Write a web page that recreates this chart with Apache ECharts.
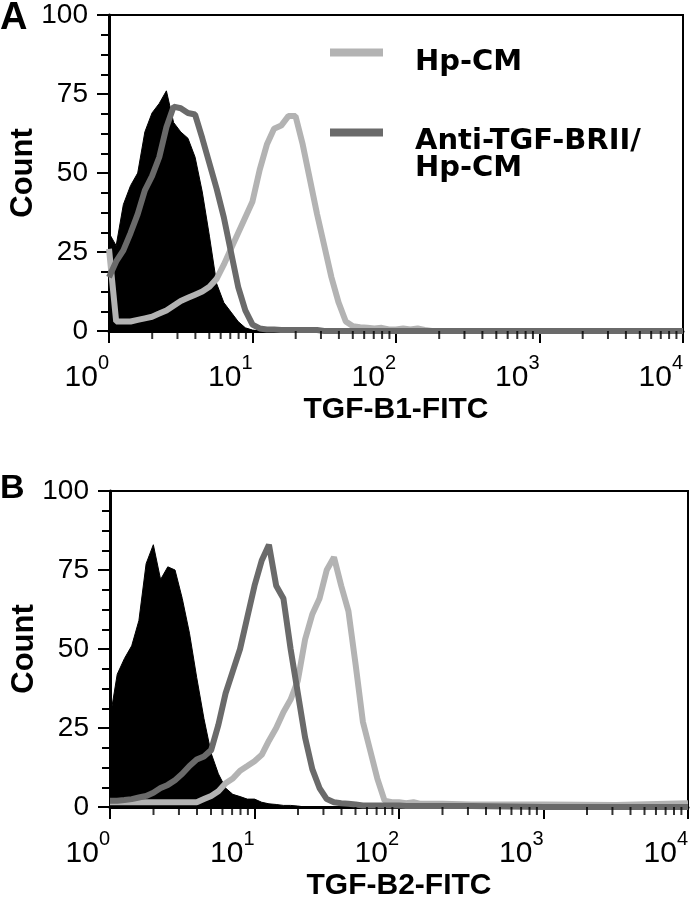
<!DOCTYPE html>
<html><head><meta charset="utf-8">
<script src="https://cdn.jsdelivr.net/npm/echarts@6/dist/echarts.min.js"></script>
<style>html,body{margin:0;padding:0;background:#fff}#c{width:700px;height:898px}</style>
</head><body><div id="c"></div>
<script>
// channel intensities (FITC fluorescence, log scale)
const channels = [1, 1.122, 1.259, 1.413, 1.585, 1.778, 1.995, 2.239, 2.512, 2.818,
  3.162, 3.548, 3.981, 4.467, 5.012, 5.623, 6.310, 7.079, 7.943, 8.913,
  10, 11.22, 12.59, 14.13, 15.85, 17.78, 19.95, 22.39, 25.12, 28.18,
  31.62, 35.48, 39.81, 44.67, 50.12, 56.23, 63.10, 70.79, 79.43, 89.13,
  100, 112.2, 125.9, 141.3, 158.5, 177.8, 199.5, 316.2, 1000, 3162, 10000];

// Panel A: TGF-B1-FITC
const aControl = [31, 27, 40, 46, 50, 63, 69, 72, 76, 66,
  63, 61, 55, 44, 30, 15, 9, 6, 3, 1,
  0.3, 0, 0, 0, 0, 0, 0, 0, 0, 0,
  0, 0, 0, 0, 0, 0, 0, 0, 0, 0,
  0, 0, 0, 0, 0, 0, 0, 0, 0, 0, 0];
const aHpCM = [26, 3, 3, 3, 3.5, 4, 4.5, 5.5, 6.5, 8,
  9.5, 10.5, 11.5, 12.5, 14, 16.5, 21, 26, 31, 36,
  41, 51, 59, 64, 65, 68, 68, 59, 48, 37,
  27, 17, 9, 3, 1.5, 1.2, 1, 0.8, 1, 0.5,
  0.5, 0.8, 0.5, 0.8, 0.3, 0, 0, 0, 0, 0, 0];
const aAnti = [17, 22, 25.5, 31, 37, 44.5, 49, 55, 64.5, 71,
  70.5, 69, 68.5, 61, 53, 45, 36, 25, 14, 6.5,
  2, 0.8, 0.5, 0.5, 0.3, 0.3, 0.3, 0.3, 0.3, 0.3,
  0, 0, 0, 0, 0, 0, 0, 0, 0, 0,
  0, 0, 0, 0, 0, 0, 0, 0, 0, 0, 0];

// Panel B: TGF-B2-FITC
const bControl = [28, 42, 47, 51, 59, 77, 83, 72, 76, 75,
  66, 55, 41, 28, 17, 10.5, 6, 4, 3.3, 2.5,
  2.5, 1.5, 1, 0.8, 0.5, 0.5, 0.3, 0, 0, 0,
  0, 0, 0, 0, 0, 0, 0, 0, 0, 0,
  0, 0, 0, 0, 0, 0, 0, 0, 0, 0, 0];
const bHpCM = [1.5, 1.5, 1.5, 1.5, 1.5, 1.5, 1.5, 1.5, 1.5, 1.5,
  1.5, 1.5, 1.5, 2.5, 3.5, 5, 7.5, 9, 11.5, 13,
  14.5, 16.5, 21, 25, 30, 34, 40, 53, 61, 66,
  75, 79, 70, 62, 45, 27, 18, 9, 2, 1.5,
  1.5, 1.2, 1.5, 1, 1, 1, 1, 0.8, 0.8, 0.6, 1.2];
const bAnti = [2, 2, 2.2, 2.5, 3, 3.5, 4.5, 6, 7, 8.5,
  10.5, 13, 15, 16, 18, 26, 36, 43, 50, 60,
  70, 78, 83, 70, 66, 50, 36, 22, 12, 6,
  2.5, 1.5, 1.2, 1, 0.8, 0.5, 0.5, 0.5, 0.5, 0.5,
  0.5, 0.3, 0.3, 0.3, 0.3, 0.3, 0.3, 0.3, 0, 0, 0];

// ticks
const xTickValues = [1, 10, 100, 1000, 10000];
const xTickExponents = ['0', '1', '2', '3', '4'];
const xMinorTicks = [2, 3, 4, 5, 6, 7, 8, 9, 20, 30, 40, 50, 60, 70, 80, 90,
  200, 300, 400, 500, 600, 700, 800, 900, 2000, 3000, 4000, 5000, 6000, 7000, 8000, 9000];

const nameHp = 'Hp-CM';
const nameAnti = 'Anti-TGF-BRII/\nHp-CM';
const LIGHT = '#b3b3b3', DARK = '#6a6a6a';
const FONT = "'Liberation Sans', Arial, Helvetica, sans-serif";

const chart = echarts.init(document.getElementById('c'));
const pairs = arr => channels.map((x, i) => [x, arr[i]]);

const plotA = {left: 109, top: 15, width: 574, height: 316};
const plotB = {left: 110, top: 491, width: 578, height: 316};

function xAx(gridIndex, title) {
  return {
    type: 'log', gridIndex, min: 1, max: 10000, position: 'bottom',
    name: title, nameLocation: 'middle', nameGap: 64, nameMoveOverlap: false,
    nameTextStyle: {fontFamily: FONT, fontWeight: 'bold', fontSize: 30, color: '#000'},
    axisLine: {show: true, onZero: false, lineStyle: {color: '#000', width: 3}},
    axisTick: {show: true, inside: false, length: 12, lineStyle: {color: '#000', width: 2}},
    splitLine: {show: false}, minorTick: {show: false},
    axisLabel: {
      margin: 22, align: 'right',
      formatter: v => {
        const i = xTickValues.findIndex(t => Math.abs(t - v) / t < 1e-6);
        return '{b|10}{s|' + (i >= 0 ? xTickExponents[i] : '') + '}';
      },
      rich: {
        b: {fontFamily: FONT, fontSize: 30, lineHeight: 40, verticalAlign: 'bottom', color: '#000'},
        s: {fontFamily: FONT, fontSize: 20, lineHeight: 20, verticalAlign: 'top', color: '#000'}
      }
    }
  };
}
function yAx(gridIndex) {
  return {
    type: 'value', gridIndex, min: 0, max: 100, interval: 25,
    name: 'Count', nameLocation: 'middle', nameGap: 70, nameRotate: 90, nameMoveOverlap: false,
    nameTextStyle: {fontFamily: FONT, fontWeight: 'bold', fontSize: 31, color: '#000'},
    axisLine: {show: true, onZero: false, lineStyle: {color: '#000', width: 3}},
    axisTick: {show: true, inside: false, length: 12, lineStyle: {color: '#000', width: 2}},
    minorTick: {show: true, splitNumber: 4, length: 8, lineStyle: {color: '#000', width: 2}},
    splitLine: {show: false},
    axisLabel: {fontFamily: FONT, fontSize: 28, color: '#000', margin: 21}
  };
}
// strips just outside each plot, whose split lines form the major tick marks
function xStripAxis(gridIndex) {
  return {type: 'log', gridIndex, min: 1, max: 10000,
    axisLine: {show: false}, axisTick: {show: false}, axisLabel: {show: false},
    splitLine: {show: true, lineStyle: {color: '#000', width: 2}}};
}
function yStripHidden(gridIndex) {
  return {type: 'value', gridIndex, min: 0, max: 1,
    axisLine: {show: false}, axisTick: {show: false}, axisLabel: {show: false}, splitLine: {show: false}};
}
function yStripAxis(gridIndex) {
  return {type: 'value', gridIndex, min: 0, max: 100, interval: 25,
    axisLine: {show: false}, axisTick: {show: false}, axisLabel: {show: false},
    splitLine: {show: true, lineStyle: {color: '#000', width: 2}}};
}
function xStripHidden(gridIndex) {
  return {type: 'value', gridIndex, min: 0, max: 1,
    axisLine: {show: false}, axisTick: {show: false}, axisLabel: {show: false}, splitLine: {show: false}};
}
// log-decade minor ticks (2..9 x 10^n) as short bars placed by the strip's x scale
function minorTickSeries(xi, yi) {
  return {type: 'scatter', name: 'minor ticks', xAxisIndex: xi, yAxisIndex: yi, silent: true,
    data: xMinorTicks.map(v => [v, 1]), symbol: 'rect', symbolSize: [2, 8], symbolOffset: [0, 4],
    itemStyle: {color: '#000'}, clip: false, z: 5};
}
function controlSeries(xi, yi, arr) {
  return {name: 'Control', type: 'line', xAxisIndex: xi, yAxisIndex: yi, data: pairs(arr),
    symbol: 'none', silent: true,
    lineStyle: {color: '#000', width: 1}, itemStyle: {color: '#000'},
    areaStyle: {color: '#000', opacity: 1}};
}
function lineSeries(name, xi, yi, arr, color) {
  return {name, type: 'line', xAxisIndex: xi, yAxisIndex: yi, data: pairs(arr),
    symbol: 'none', silent: true,
    lineStyle: {color, width: 6}, itemStyle: {color}};
}
function legendOf(name, top, spacer, lh) {
  return {data: [name], orient: 'vertical', left: 330, top, padding: 0, itemGap: 0,
    icon: 'rect', itemWidth: 53, itemHeight: 8, selectedMode: false, itemStyle: {borderWidth: 0},
    formatter: n => '{g| }\n' + n.split('\n').map(s => '{t|' + s + '}').join('\n'),
    textStyle: {padding: [0, 0, 0, 27],
      rich: {
        g: {fontSize: 1, lineHeight: spacer},
        t: {fontFamily: "'DejaVu Sans', sans-serif", fontWeight: 'bold', fontSize: 29, lineHeight: lh, color: '#000'}
      }}};
}
const frame = {show: true, borderColor: '#000', borderWidth: 2, backgroundColor: 'transparent', outerBoundsMode: 'none'};
const plain = {show: false, outerBoundsMode: 'none'};

chart.setOption({
  animation: false,
  backgroundColor: '#fff',
  title: [
    {text: 'A', left: 0, top: 0, padding: 0, textStyle: {fontFamily: FONT, fontWeight: 'bold', fontSize: 38, color: '#000'}},
    {text: 'B', left: 0, top: 472, padding: 0, textStyle: {fontFamily: FONT, fontWeight: 'bold', fontSize: 34, color: '#000'}}
  ],
  legend: [legendOf(nameHp, 37, 20, 30), legendOf(nameAnti, 105, 45, 27)],
  grid: [
    Object.assign({}, plotA, frame),
    Object.assign({}, plotB, frame),
    Object.assign({left: plotA.left, top: plotA.top + plotA.height, width: plotA.width, height: 12}, plain),
    Object.assign({left: plotB.left, top: plotB.top + plotB.height, width: plotB.width, height: 12}, plain),
    Object.assign({left: plotA.left - 12, top: plotA.top, width: 12, height: plotA.height}, plain),
    Object.assign({left: plotB.left - 12, top: plotB.top, width: 12, height: plotB.height}, plain)
  ],
  xAxis: [xAx(0, 'TGF-B1-FITC'), xAx(1, 'TGF-B2-FITC'),
    xStripAxis(2), xStripAxis(3), xStripHidden(4), xStripHidden(5)],
  yAxis: [yAx(0), yAx(1),
    yStripHidden(2), yStripHidden(3), yStripAxis(4), yStripAxis(5)],
  series: [
    controlSeries(0, 0, aControl),
    lineSeries(nameHp, 0, 0, aHpCM, LIGHT),
    lineSeries(nameAnti, 0, 0, aAnti, DARK),
    controlSeries(1, 1, bControl),
    lineSeries(nameHp, 1, 1, bHpCM, LIGHT),
    lineSeries(nameAnti, 1, 1, bAnti, DARK),
    minorTickSeries(2, 2),
    minorTickSeries(3, 3)
  ]
});
</script>
</body></html>
